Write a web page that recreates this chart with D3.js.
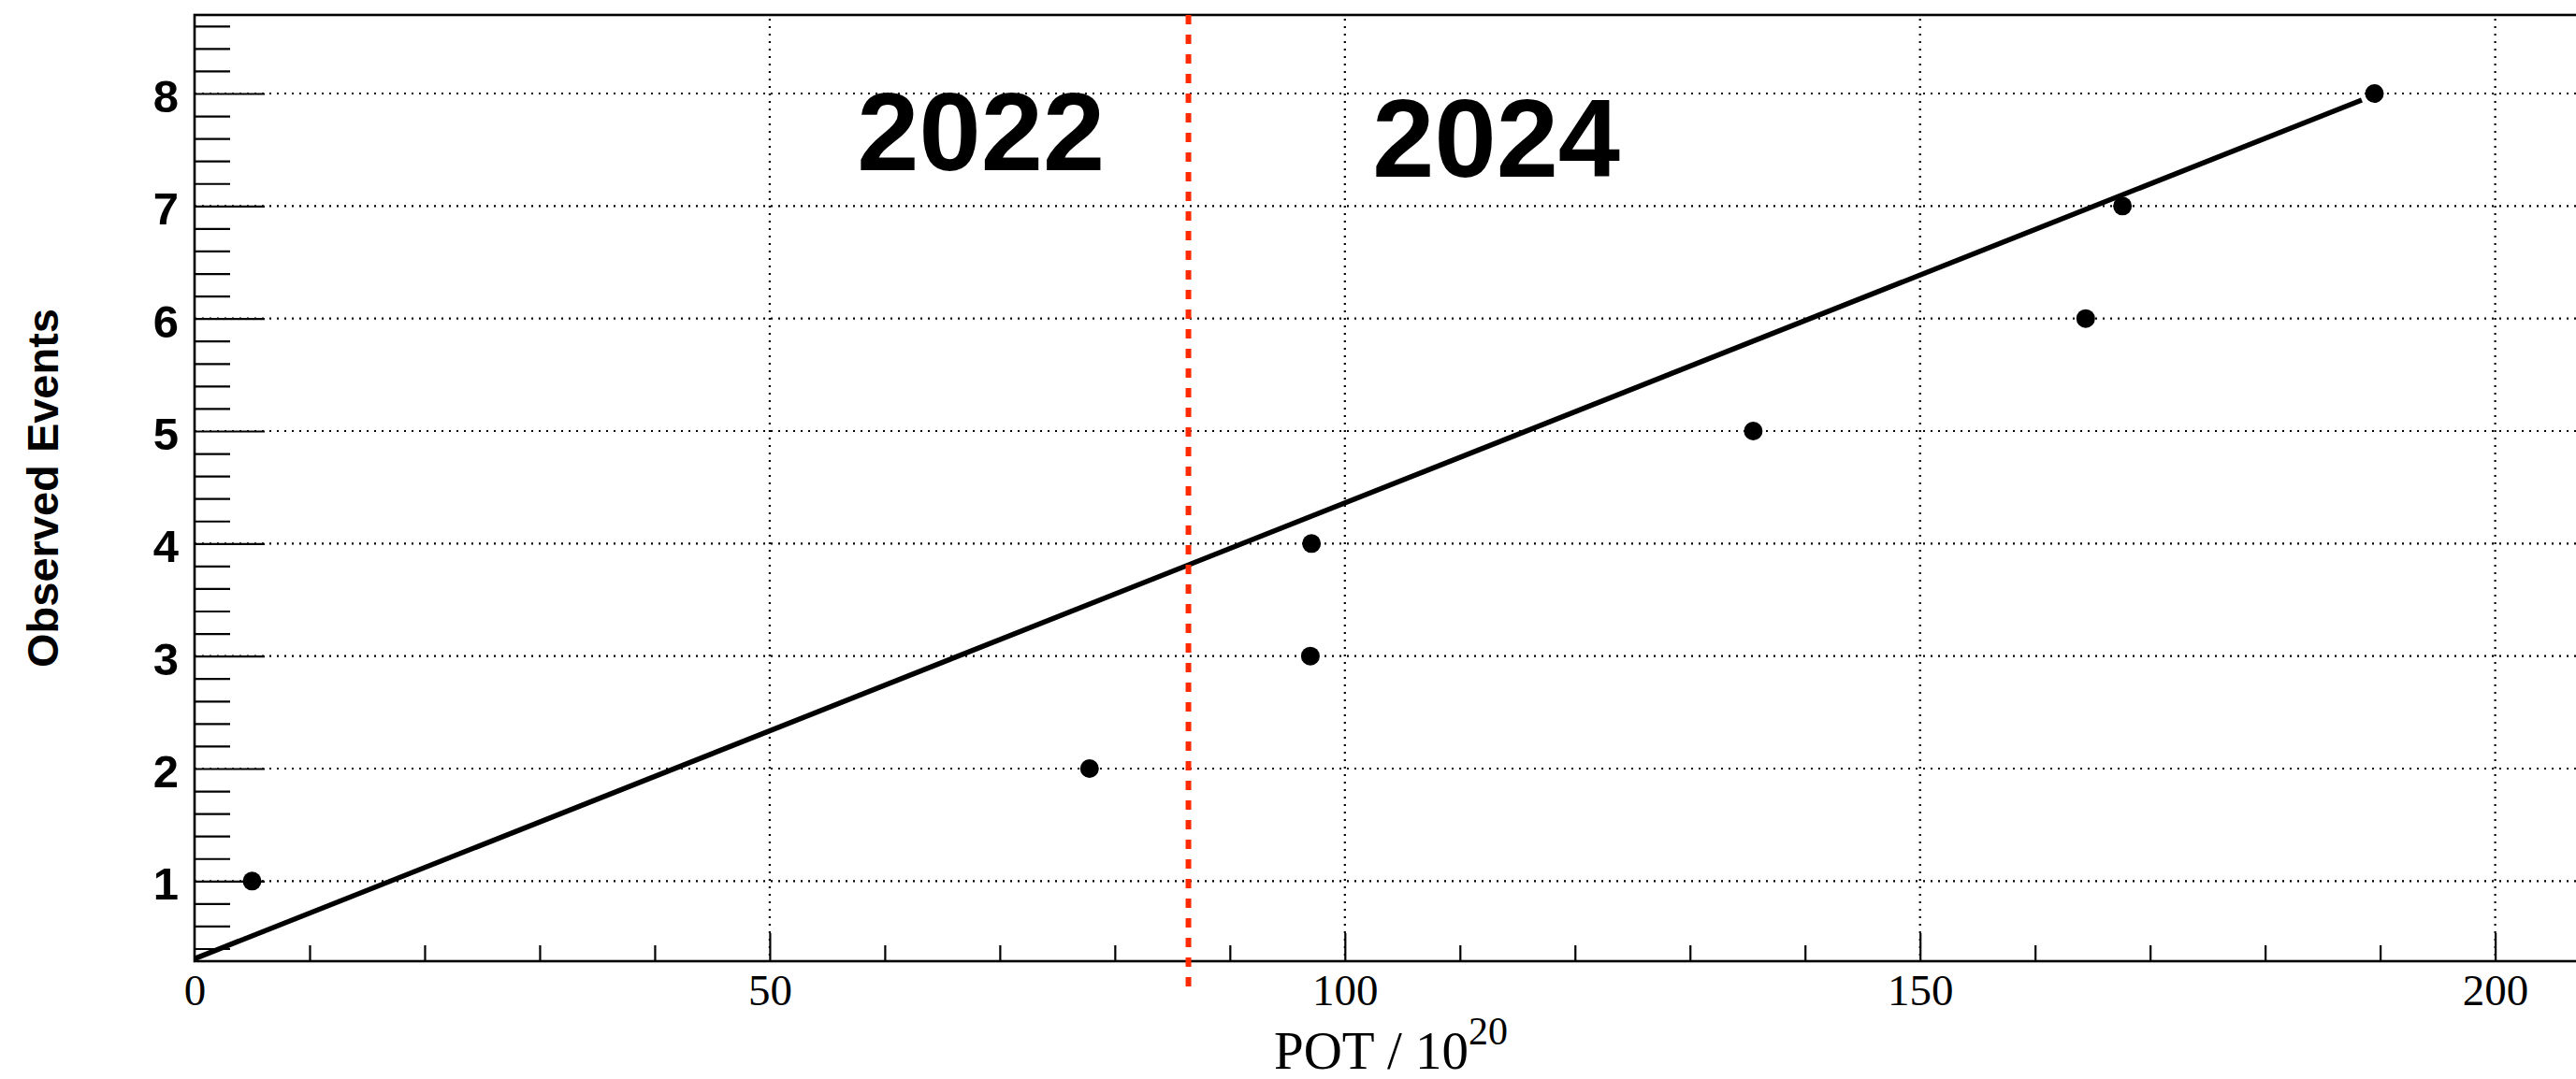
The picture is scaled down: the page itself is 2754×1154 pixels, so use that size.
<!DOCTYPE html>
<html>
<head>
<meta charset="utf-8">
<script src="https://cdn.jsdelivr.net/npm/d3@7"></script>
<style>
  html, body { margin: 0; padding: 0; background: #fff; overflow: hidden; }
  svg { display: block; }
</style>
</head>
<body>
<svg id="chart" width="2754" height="1154"></svg>
<script>
// ---- data ----
const potValues = [5.0, 77.8, 97.0, 97.1, 135.5, 164.4, 167.6, 189.5];
const observedEvents = [1, 2, 3, 4, 5, 6, 7, 8];
const fitX = [0, 188.4];
const fitY = [0.31, 7.942];
const dividerPOT = 86.4;
const xMajorTicks = [0, 50, 100, 150, 200];
const xMinorTicks = [10, 20, 30, 40, 60, 70, 80, 90, 110, 120, 130, 140, 160, 170, 180, 190];
const yMajorTicks = [1, 2, 3, 4, 5, 6, 7, 8];
const yearLabels = ["2022", "2024"];
const yearLabelX = [57.6, 102.4];
const yearLabelY = [7.32, 7.26];

// ---- layout ----
const mLeft = 208, mTop = 16, mRight = 2766, mBottom = 1028;
const svg = d3.select("#chart");

const x = d3.scaleLinear().domain([0, 208]).range([mLeft, mRight]);
const y = d3.scaleLinear().domain([0.288, 8.698]).range([mBottom, mTop]);

const yMinorTicks = d3.range(0.4, 8.61, 0.2).map(v => +v.toFixed(1)).filter(v => Math.abs(v - Math.round(v)) > 1e-6);

// grid
const grid = svg.append("g");
grid.selectAll("line.gx").data(xMajorTicks.filter(v => v > 0)).join("line")
  .attr("class", "gx")
  .attr("x1", d => x(d)).attr("x2", d => x(d))
  .attr("y1", mTop + 4).attr("y2", mBottom)
  .attr("stroke", "#000").attr("stroke-width", 2.2).attr("stroke-dasharray", "2,6");
grid.selectAll("line.gy").data(yMajorTicks).join("line")
  .attr("class", "gy")
  .attr("x1", mLeft).attr("x2", 2754)
  .attr("y1", d => y(d)).attr("y2", d => y(d))
  .attr("stroke", "#000").attr("stroke-width", 2.2).attr("stroke-dasharray", "2,6");

// axes: ticks inward
const yMajorAxis = d3.axisLeft(y).tickValues(yMajorTicks).tickSize(-75).tickSizeOuter(0).tickPadding(17).tickFormat(d3.format("d"));
const yMinorAxis = d3.axisLeft(y).tickValues(yMinorTicks).tickSize(-38).tickSizeOuter(0).tickFormat("");
const xMajorAxis = d3.axisBottom(x).tickValues(xMajorTicks).tickSize(-30).tickSizeOuter(0).tickPadding(14).tickFormat(d3.format("d"));
const xMinorAxis = d3.axisBottom(x).tickValues(xMinorTicks).tickSize(-17).tickSizeOuter(0).tickFormat("");

function styleAxis(g) {
  g.select(".domain").remove();
  g.selectAll(".tick line").attr("stroke", "#000").attr("stroke-width", 2.2);
}

svg.append("g").attr("transform", `translate(${mLeft},0)`).call(yMinorAxis).call(styleAxis);
const gy = svg.append("g").attr("transform", `translate(${mLeft},0)`).call(yMajorAxis).call(styleAxis);
gy.selectAll(".tick text")
  .attr("font-family", "'Liberation Sans', Arial, Helvetica, sans-serif")
  .attr("font-weight", "bold").attr("font-size", 49).attr("fill", "#000")
  .attr("dy", "0.4em");

svg.append("g").attr("transform", `translate(0,${mBottom})`).call(xMinorAxis).call(styleAxis);
const gx = svg.append("g").attr("transform", `translate(0,${mBottom})`).call(xMajorAxis).call(styleAxis);
gx.selectAll(".tick line").filter(d => d === 0).remove();
gx.selectAll(".tick text")
  .attr("font-family", "'Liberation Serif', 'Times New Roman', Times, serif")
  .attr("font-size", 47).attr("fill", "#000");

// frame
svg.append("rect")
  .attr("x", mLeft).attr("y", mTop).attr("width", mRight - mLeft).attr("height", mBottom - mTop)
  .attr("fill", "none").attr("stroke", "#000").attr("stroke-width", 2.6);

// fit line
const line = d3.line().x(d => x(d[0])).y(d => y(d[1]));
svg.append("path")
  .datum(fitX.map((v, i) => [v, fitY[i]]))
  .attr("d", line)
  .attr("fill", "none").attr("stroke", "#000").attr("stroke-width", 5.5);

// divider line
svg.append("line")
  .attr("x1", x(dividerPOT)).attr("x2", x(dividerPOT))
  .attr("y1", y(8.698)).attr("y2", y(0))
  .attr("stroke", "#ff2a00").attr("stroke-width", 6).attr("stroke-dasharray", "10,11");

// points
svg.append("g").selectAll("circle").data(potValues.map((v, i) => [v, observedEvents[i]])).join("circle")
  .attr("cx", d => x(d[0])).attr("cy", d => y(d[1])).attr("r", 10).attr("fill", "#000");

// year labels
svg.append("g").selectAll("text").data(yearLabels).join("text")
  .attr("x", (d, i) => x(yearLabelX[i])).attr("y", (d, i) => y(yearLabelY[i]))
  .attr("font-family", "'Liberation Sans', Arial, Helvetica, sans-serif")
  .attr("font-weight", "bold").attr("font-size", 119).attr("fill", "#000")
  .text(d => d);

// axis titles
const xt = svg.append("text")
  .attr("x", (mLeft + mRight) / 2).attr("y", 1143)
  .attr("text-anchor", "middle")
  .attr("font-family", "'Liberation Serif', 'Times New Roman', Times, serif")
  .attr("font-size", 57).attr("fill", "#000");
xt.append("tspan").text("POT / 10");
xt.append("tspan").attr("font-size", 42).attr("dy", -26).text("20");

svg.append("text")
  .attr("transform", `translate(62,${(mTop + mBottom) / 2}) rotate(-90)`)
  .attr("text-anchor", "middle")
  .attr("font-family", "'Liberation Sans', Arial, Helvetica, sans-serif")
  .attr("font-weight", "bold").attr("font-size", 47).attr("fill", "#000")
  .text("Observed Events");
</script>
</body>
</html>
